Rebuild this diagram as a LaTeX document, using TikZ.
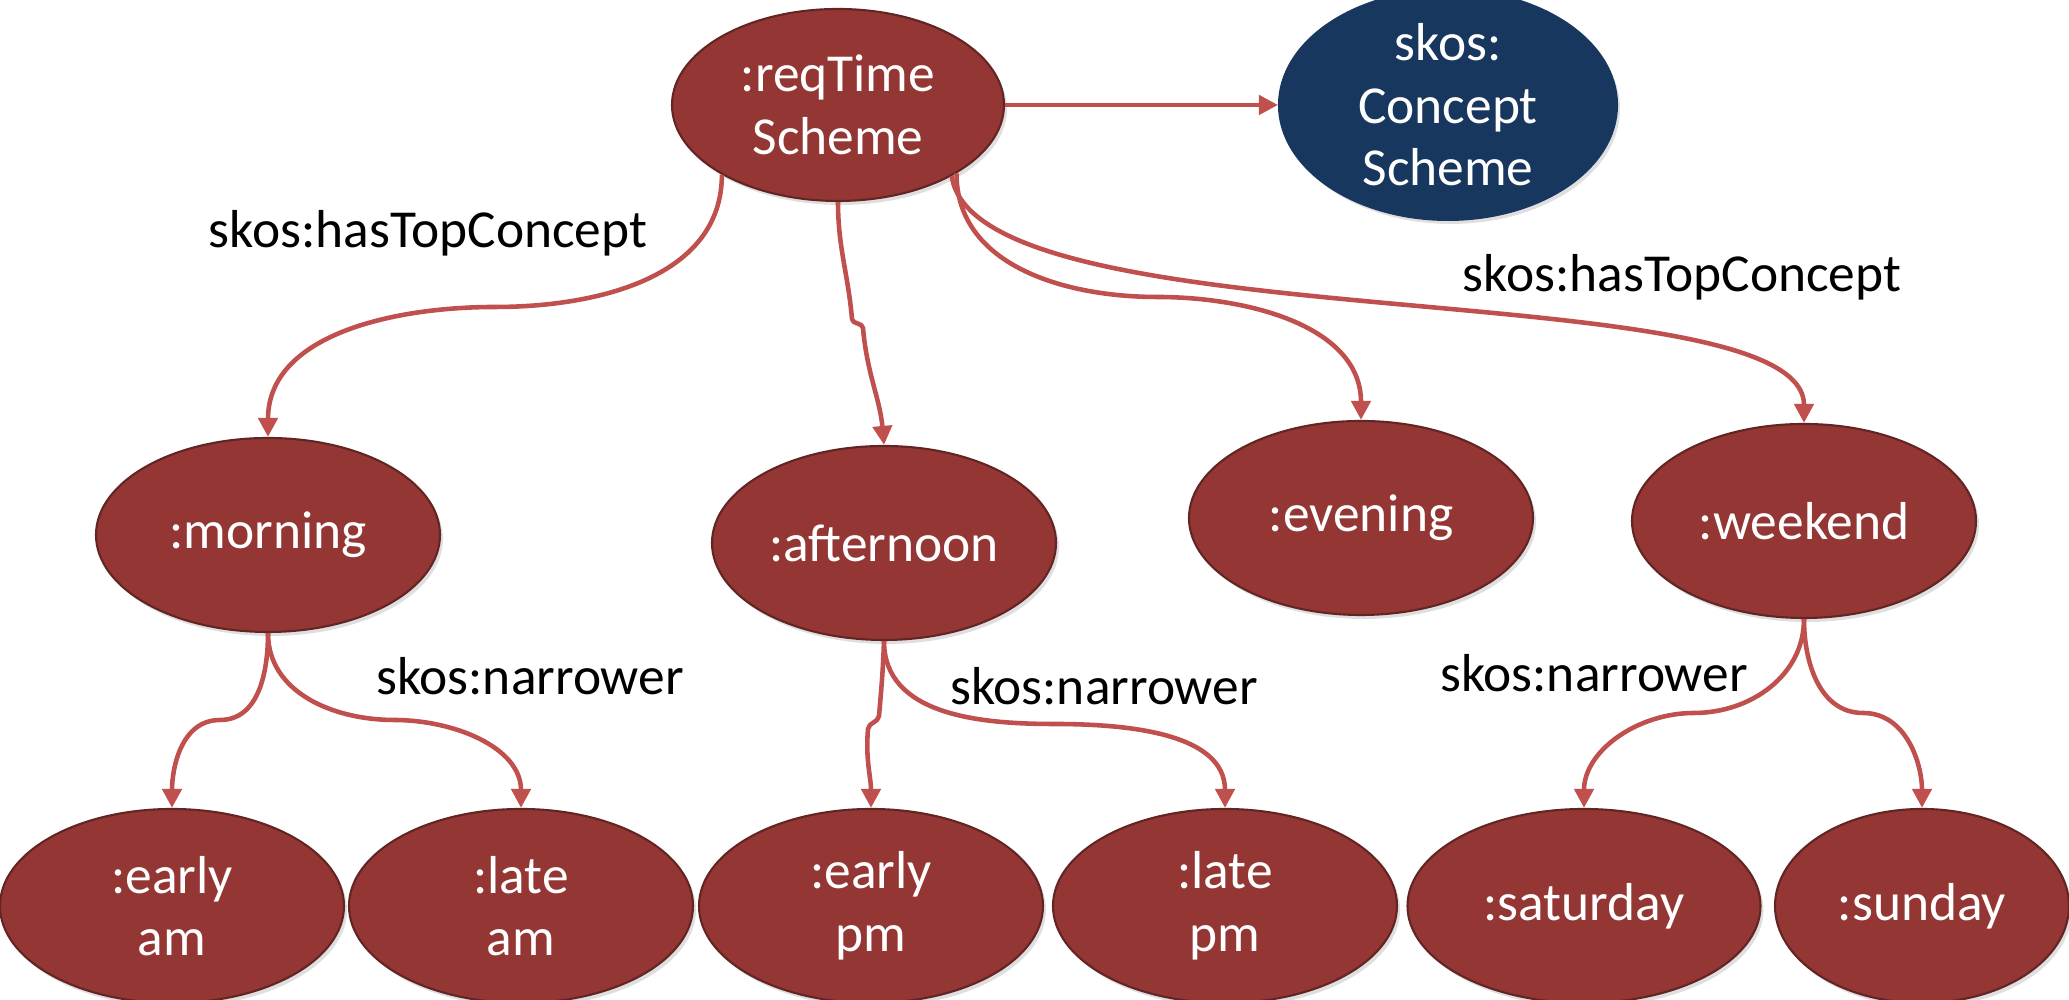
\documentclass[tikz,border=0pt]{standalone}
\usepackage{fontspec}
\setmainfont{Carlito}
\usepackage{xcolor}
\usetikzlibrary{arrows.meta, positioning, shapes.geometric, shadows}

\definecolor{conceptred}{HTML}{943634}
\definecolor{conceptedge}{HTML}{632523}
\definecolor{schemeblue}{HTML}{17375E}
\definecolor{linkred}{HTML}{C0504D}

\tikzset{
    concept/.style={ellipse, fill=conceptred, draw=conceptedge, line width=0.6pt,
        text=white, align=center, inner sep=0pt,
        minimum width=3.44cm, minimum height=1.94cm,
        drop shadow={opacity=0.25, shadow xshift=0.03cm, shadow yshift=-0.04cm}},
    schemenode/.style={concept, fill=schemeblue, draw=schemeblue},
    link/.style={draw=linkred, line width=1.3pt, line join=round,
        -{Triangle[length=1.9mm, width=1.9mm]}},
    linklabel/.style={text=black, inner sep=0pt}
}

\begin{document}
\begin{tikzpicture}[font=\fontsize{15.2}{17.8}\selectfont]
    \useasboundingbox (0,0) rectangle (20.69,10);

    % Scheme
    \node[concept, minimum width=3.32cm, minimum height=1.92cm] (req) at (8.38, 8.95) {:reqTime\\Scheme};
    \node[schemenode, minimum width=3.38cm, minimum height=1.92cm] (scheme) at (14.48, 8.95) {skos:\\Concept\\Scheme};
    \draw[link] (req) -- (scheme);

    % Top concepts
    \node[concept] (morning) at (2.68, 4.65) {:morning};
    \node[concept] (afternoon) at (8.84, 4.57) {:afternoon};
    \node[concept] (evening) at (13.61, 4.82) {:evening};
    \node[concept] (weekend) at (18.04, 4.79) {:weekend};

    % Narrower concepts
    \node[concept] (earlyam) at (1.72, 0.94) {:early\\am};
    \node[concept] (lateam) at (5.21, 0.94) {:late\\am};
    \node[concept] (earlypm) at (8.71, 0.94) {:early\\pm};
    \node[concept] (latepm) at (12.25, 0.94) {:late\\pm};
    \node[concept, minimum width=3.53cm] (saturday) at (15.84, 0.94) {:saturday};
    \node[concept, minimum width=2.94cm] (sunday) at (19.22, 0.94) {:sunday};

    % Bend points of the curved links
    \coordinate (m-morning) at (4.95, 6.93);
    \coordinate (k-afternoon) at (8.52, 6.81);
    \coordinate (j-afternoon) at (8.63, 6.72);
    \coordinate (m-evening) at (11.57, 7.03);
    \coordinate (m-earlyam) at (2.20, 2.80);
    \coordinate (m-lateam) at (3.94, 2.80);
    \coordinate (k-earlypm) at (8.79, 2.84);
    \coordinate (j-earlypm) at (8.68, 2.71);
    \coordinate (m-latepm) at (10.54, 2.76);
    \coordinate (m-saturday) at (16.94, 2.87);
    \coordinate (m-sunday) at (18.63, 2.87);

    % skos:hasTopConcept
    \draw[link] (req.211) to[out=-90, in=0] (m-morning) to[out=180, in=90] (morning.north);
    \draw[link] (req.south) to[out=-90, in=95] (k-afternoon) to[out=-85, in=95] (j-afternoon) to[out=-85, in=95] (afternoon.north);
    \draw[link] (req.330) to[out=-90, in=180] (m-evening) to[out=0, in=90] (evening.north);
    \draw[link] (req.328) to[out=-82, in=90, out looseness=0.49, in looseness=0.44] (weekend.north);

    % skos:narrower
    \draw[link] (morning.south) to[out=-90, in=0] (m-earlyam) to[out=180, in=90] (earlyam.north);
    \draw[link] (morning.south) to[out=-90, in=180] (m-lateam) to[out=0, in=90] (lateam.north);
    \draw[link] (afternoon.south) to[out=-92, in=85] (k-earlypm) to[out=-95, in=85] (j-earlypm) to[out=-95, in=90] (earlypm.north);
    \draw[link] (afternoon.south) to[out=-90, in=180] (m-latepm) to[out=0, in=90] (latepm.north);
    \draw[link] (weekend.south) to[out=-90, in=0] (m-saturday) to[out=180, in=90] (saturday.north);
    \draw[link] (weekend.south) to[out=-90, in=180] (m-sunday) to[out=0, in=90] (sunday.north);

    % Labels
    \node[linklabel] (top-left) at (4.28, 7.67) {skos:hasTopConcept};
    \node[linklabel] (top-right) at (16.82, 7.23) {skos:hasTopConcept};
    \node[linklabel] (nar-am) at (5.30, 3.24) {skos:narrower};
    \node[linklabel] (nar-pm) at (11.04, 3.14) {skos:narrower};
    \node[linklabel] (nar-we) at (15.94, 3.27) {skos:narrower};
\end{tikzpicture}
\end{document}
